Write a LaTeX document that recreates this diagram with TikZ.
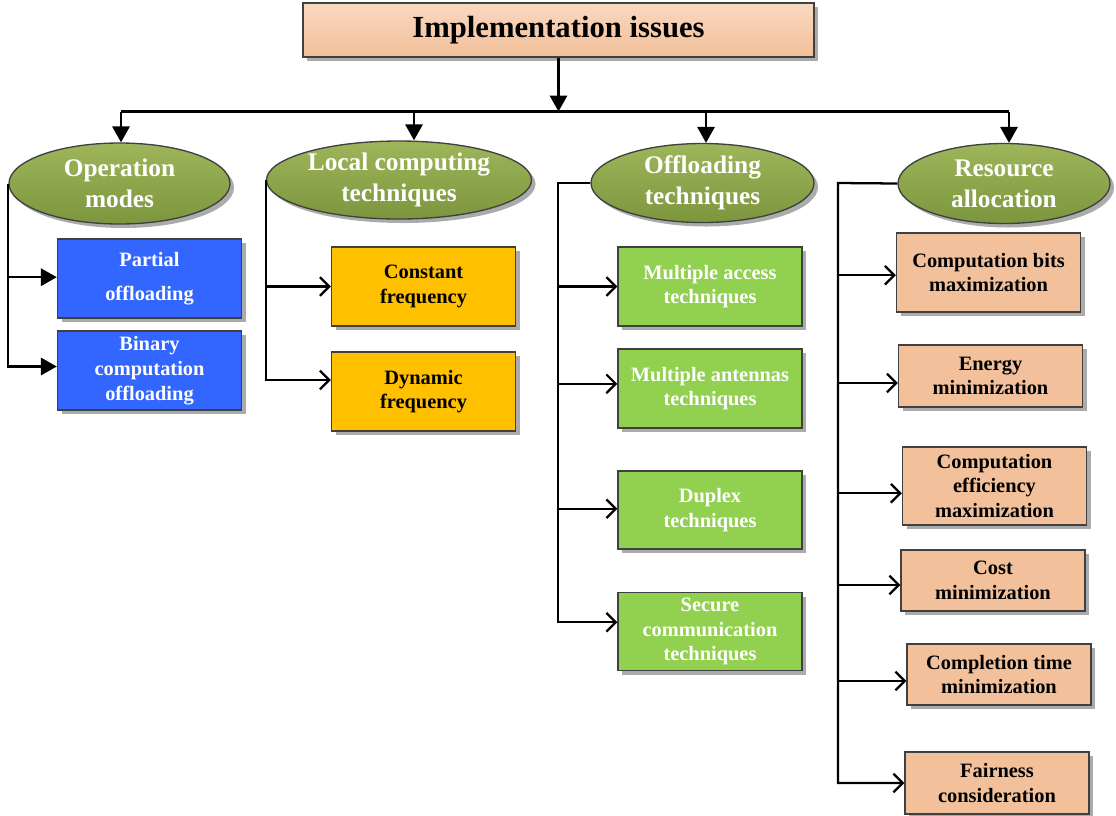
\documentclass[tikz,border=0pt]{standalone}
\usepackage{fontspec}
\setmainfont{Liberation Serif}
\usepackage{tikz}
\usetikzlibrary{arrows.meta,shapes.geometric,shadows}

\definecolor{peachtop}{RGB}{249,216,192}
\definecolor{peach}{RGB}{242,192,154}
\definecolor{olivetop}{RGB}{158,182,90}
\definecolor{olive}{RGB}{124,150,62}
\definecolor{boxblue}{RGB}{51,102,255}
\definecolor{boxgold}{RGB}{255,192,0}
\definecolor{boxgreen}{RGB}{146,208,80}
\definecolor{edgegray}{RGB}{64,64,64}

\tikzset{
  boxshadow/.style={drop shadow={shadow xshift=3pt,shadow yshift=-3pt,fill=black!55,opacity=.6}},
  topbox/.style={rectangle,draw=edgegray,line width=1.1pt,top color=peachtop,bottom color=peach,
    minimum width=383pt,minimum height=40.5pt,font=\fontsize{23}{27}\selectfont\bfseries,boxshadow},
  branch/.style={ellipse,draw=edgegray,line width=1pt,top color=olivetop,bottom color=olive,
    text=white,inner sep=0pt,align=center,font=\fontsize{19}{23.25}\selectfont\bfseries,boxshadow},
  leaf/.style={rectangle,draw=edgegray,line width=1pt,minimum width=138pt,minimum height=59.25pt,
    inner sep=1pt,align=center,font=\fontsize{15.3}{18.5}\selectfont\bfseries,boxshadow},
  bluebox/.style={leaf,fill=boxblue,text=white},
  goldbox/.style={leaf,fill=boxgold},
  greenbox/.style={leaf,fill=boxgreen,text=white},
  peachbox/.style={leaf,fill=peach},
  link/.style={line width=1.7pt,black},
  fillarrow/.style={link,-{Triangle[length=12pt,width=13pt]}},
  openarrow/.style={link,-{Straight Barb[length=7pt,width=14pt]}}
}

\begin{document}
\begin{tikzpicture}[x=0.75pt,y=0.75pt,yscale=-1,xscale=1]
\useasboundingbox (0,0) rectangle (1116,815);

%Title box
\node[topbox] (title) at (558.5,30) {Implementation issues};

%Branches
\node[branch,minimum width=165.75pt,minimum height=60.75pt] (opm) at (119.5,183.5) {Operation\\modes};
\node[branch,minimum width=198.75pt,minimum height=58.5pt] (lct) at (399,180) {Local computing\\techniques};
\node[branch,minimum width=167.25pt,minimum height=59.25pt] (oft) at (702.5,183) {Offloading\\techniques};
\node[branch,minimum width=159pt,minimum height=60pt] (rsa) at (1004,183.5) {Resource\\allocation};

%Operation modes
\node[bluebox] (p1) at (149.5,278.5) {Partial\\[7pt]offloading};
\node[bluebox] (p2) at (149.5,370.5) {Binary\\computation\\offloading};

%Local computing
\node[goldbox] (c1) at (423.5,286.5) {Constant\\frequency};
\node[goldbox] (c2) at (423.5,391.5) {Dynamic\\frequency};

%Offloading
\node[greenbox] (o1) at (710,286.5) {Multiple access\\techniques};
\node[greenbox] (o2) at (710,388.5) {Multiple antennas\\techniques};
\node[greenbox,minimum height=58.5pt] (o3) at (710,510) {Duplex\\techniques};
\node[greenbox,minimum height=58.5pt] (o4) at (710,631.5) {Secure\\communication\\techniques};

%Resource allocation
\node[peachbox] (r1) at (988.5,272.5) {Computation bits\\maximization};
\node[peachbox,minimum height=46.5pt] (r2) at (990.5,376) {Energy\\minimization};
\node[peachbox,minimum height=58.5pt] (r3) at (994.5,486) {Computation\\efficiency\\maximization};
\node[peachbox,minimum height=45.75pt] (r4) at (993,580.5) {Cost\\minimization};
\node[peachbox,minimum height=45.75pt] (r5) at (999,674.5) {Completion time\\minimization};
\node[peachbox,minimum height=46.5pt] (r6) at (997,783) {Fairness\\consideration};

%Bus and trunks
\coordinate (bus) at (558.5,111.5);
\coordinate (a1) at (121,111.5);
\coordinate (a2) at (414,111.5);
\coordinate (a3) at (706,111.5);
\coordinate (a4) at (1009,111.5);
\coordinate (t3) at (558,183);
\coordinate (t4) at (838,183);

%Arrow ends
\coordinate (ep1) at ([yshift=-1pt]p1.west);
\coordinate (ep2) at ([yshift=-3pt]p2.west);
\coordinate (ec2) at ([yshift=-8.6pt]c2.west);
\coordinate (eo2) at ([yshift=-3.5pt]o2.west);
\coordinate (eo3) at ([yshift=-1pt]o3.west);
\coordinate (eo4) at ([yshift=-7pt]o4.west);
\coordinate (er1) at ([yshift=2pt]r1.west);
\coordinate (er2) at ([yshift=5.25pt]r2.west);
\coordinate (er3) at ([yshift=5.5pt]r3.west);
\coordinate (er4) at ([yshift=3.4pt]r4.west);
\coordinate (er5) at ([yshift=4.9pt]r5.west);

\draw[fillarrow] (title.south) -- (bus);
\draw[link] (a1) -- (a4);
\draw[fillarrow] (a1) -- (a1 |- opm.north);
\draw[fillarrow] (a2) -- (a2 |- lct.north);
\draw[fillarrow] (a3) -- (a3 |- oft.north);
\draw[fillarrow] (a4) -- (a4 |- rsa.north);

%Operation modes links
\draw[fillarrow] (opm.west) |- (ep2);
\draw[fillarrow] (opm.west |- ep1) -- (ep1);

%Local computing links
\draw[openarrow] (lct.west) |- (ec2);
\draw[openarrow] (lct.west |- c1.west) -- (c1.west);

%Offloading links
\draw[openarrow] (oft.west) -- (t3) |- (eo4);
\draw[openarrow] (t3 |- o1.west) -- (o1.west);
\draw[openarrow] (t3 |- eo2) -- (eo2);
\draw[openarrow] (t3 |- eo3) -- (eo3);

%Resource allocation links
\draw[openarrow] (rsa.west) -- (t4) |- (r6.west);
\draw[openarrow] (t4 |- er1) -- (er1);
\draw[openarrow] (t4 |- er2) -- (er2);
\draw[openarrow] (t4 |- er3) -- (er3);
\draw[openarrow] (t4 |- er4) -- (er4);
\draw[openarrow] (t4 |- er5) -- (er5);

\end{tikzpicture}
\end{document}
